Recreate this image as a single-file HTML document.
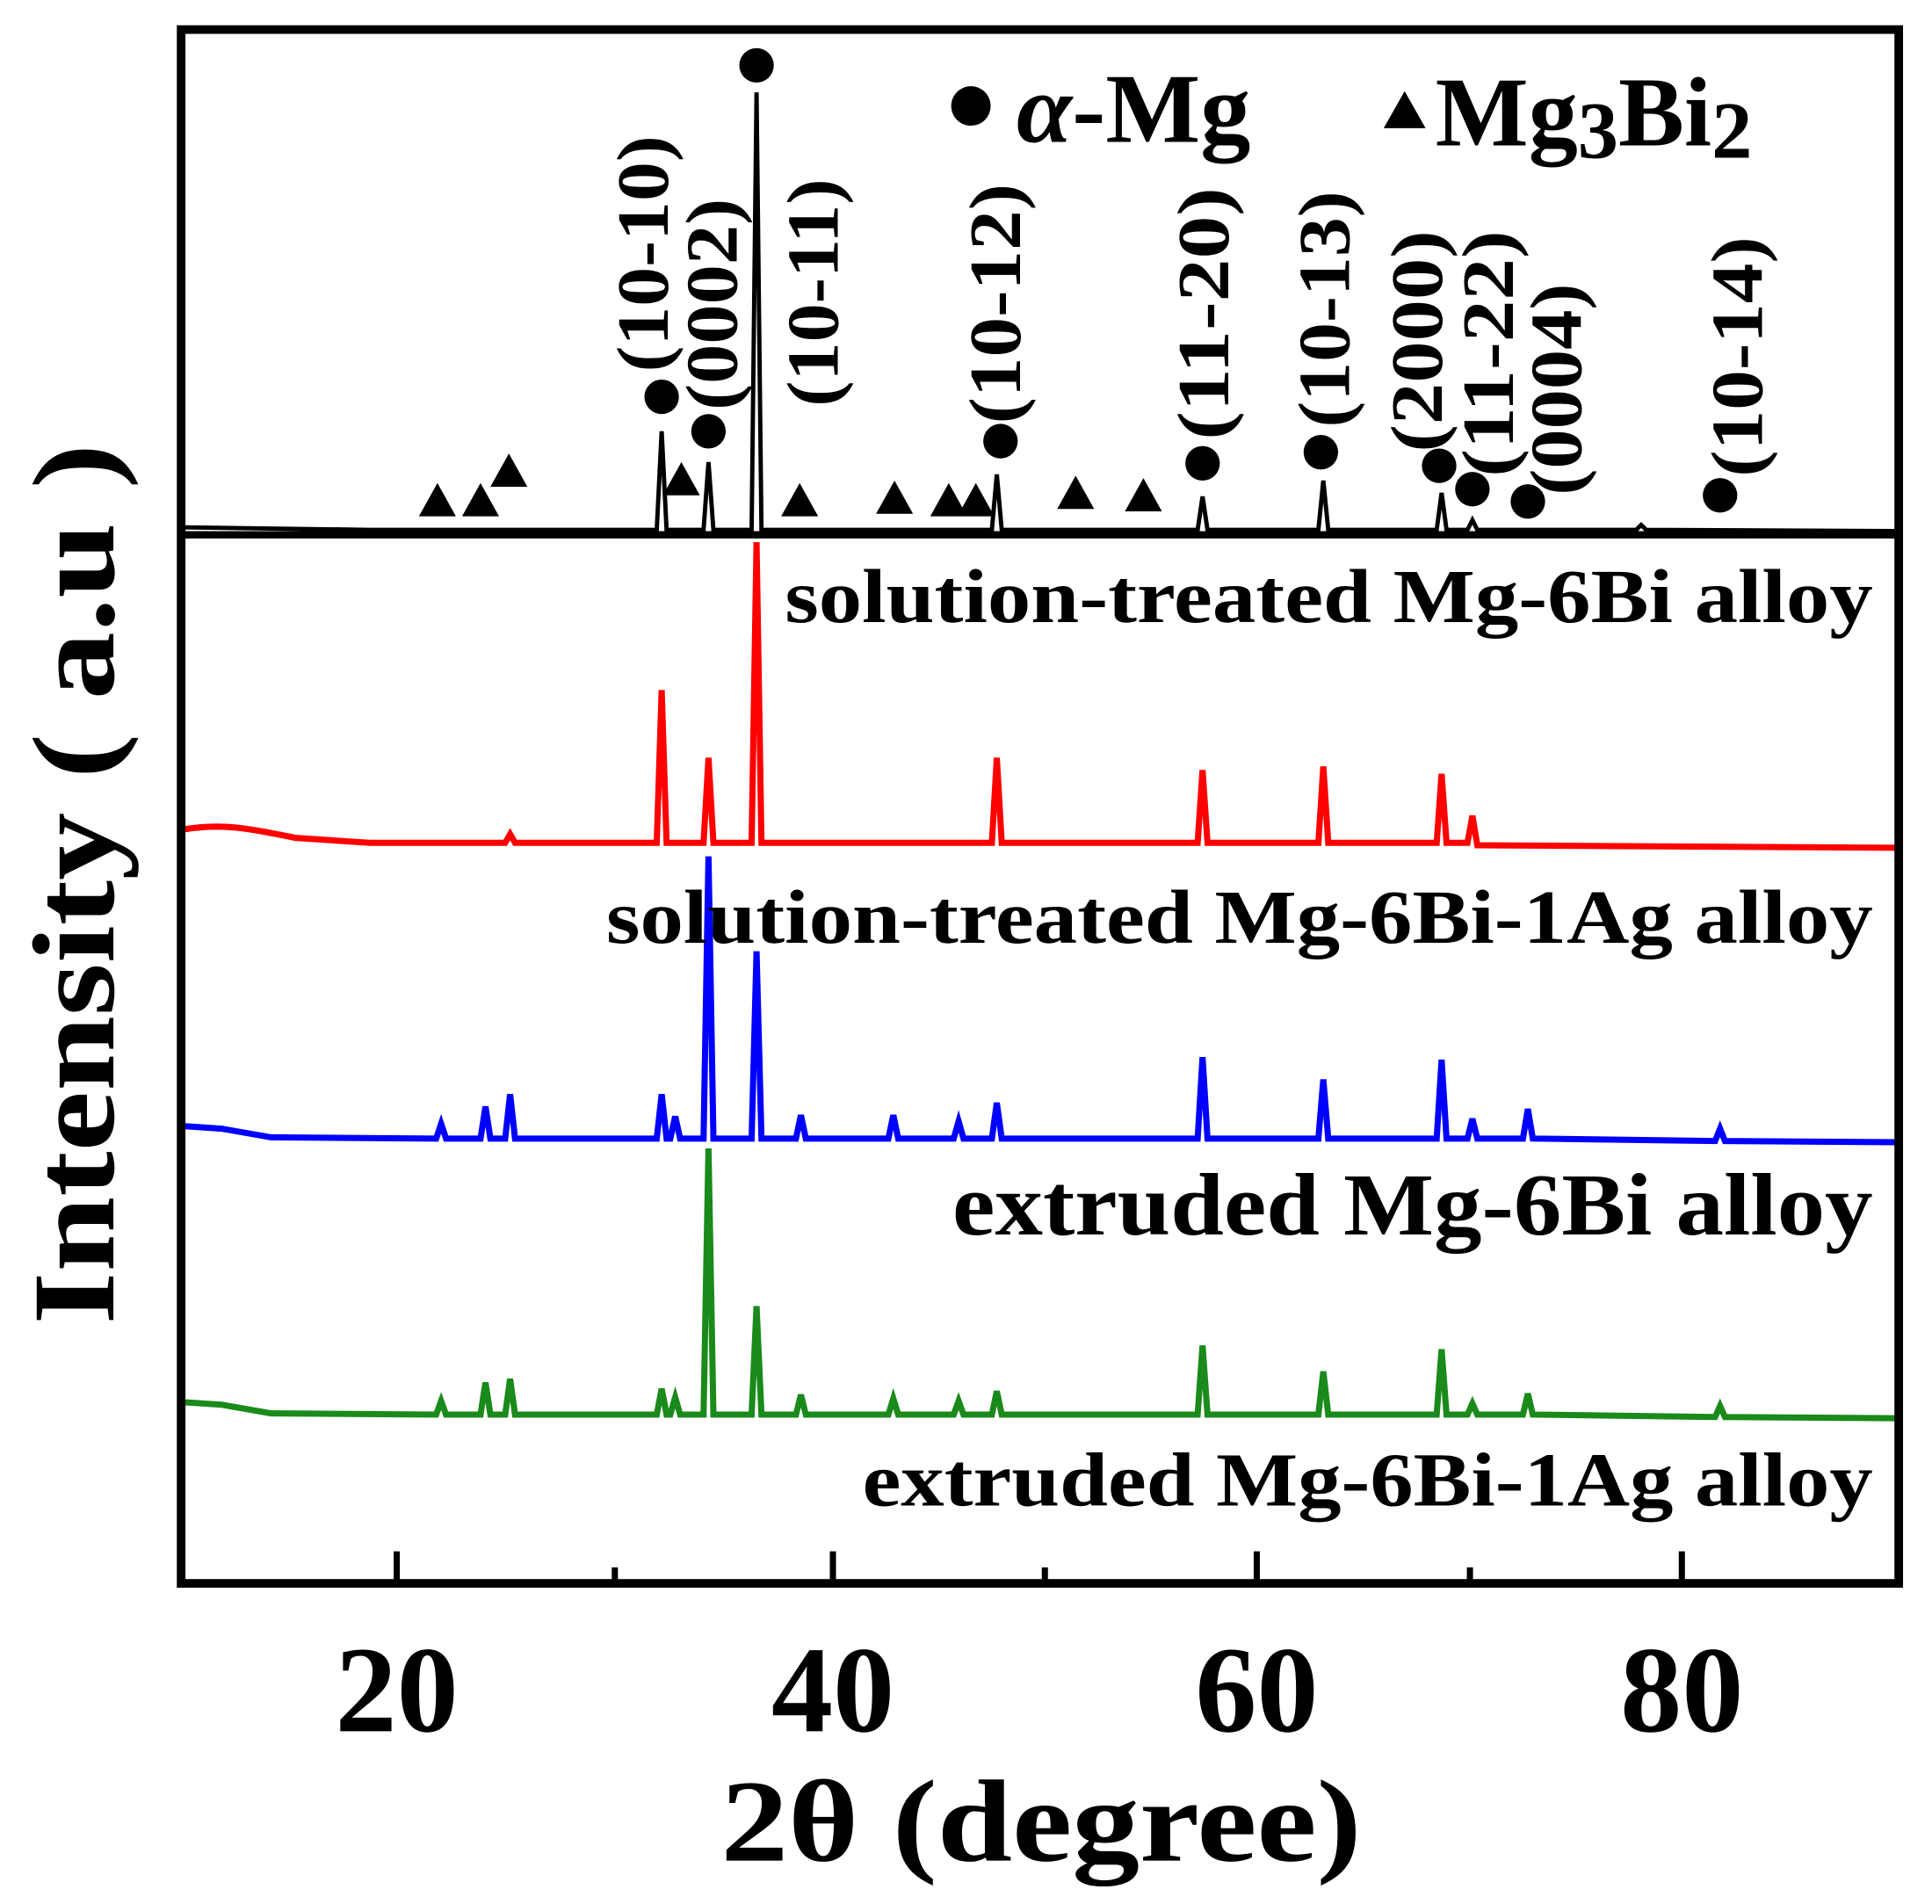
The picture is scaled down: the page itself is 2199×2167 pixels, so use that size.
<!DOCTYPE html>
<html><head><meta charset="utf-8"><style>
html,body{margin:0;padding:0;background:#fff;}
svg{display:block;}
text{font-family:"Liberation Serif",serif;font-weight:bold;fill:#000;}
</style></head><body>
<svg width="2199" height="2167" viewBox="0 0 1568 1545.2" xmlns="http://www.w3.org/2000/svg">
<rect width="1568" height="1546" fill="#fff"/>
<path fill="none" stroke="#000" stroke-width="3.5" d="M150,428 L300,430 L533,430 L537,350 L541,430 L571,430 L575,375 L579,430 L610,430 L614,75 L618,430 L805,430 L809,385 L813,430 L972,430 L976,403 L980,430 L1070,430 L1074,390 L1078,430 L1166,430 L1170,400 L1174,430 L1191,430 L1195,422 L1199,430 L1328,430 L1332,426 L1336,430 L1540,431"/>
<path fill="none" stroke="#f00" stroke-width="5" d="M150,673 C180,668 200,672 240,680 L300,684 L410,684 L414,677 L418,684 L533,684 L537,560 L541,684 L571,684 L575,615 L579,684 L610,684 L614,440 L618,684 L805,684 L809,615 L813,684 L972,684 L976,625 L980,684 L1070,684 L1074,622 L1078,684 L1166,684 L1170,628 L1174,684 L1191,684 L1195,662 L1199,686 L1540,688"/>
<path fill="none" stroke="#00f" stroke-width="5" d="M150,914 L180,916 L220,923 L354,924 L358,912 L362,924 L390,924 L394,898 L398,924 L410,924 L414,888 L418,924 L533,924 L537,888 L541,924 L544,924 L548,906 L552,924 L571,924 L575,695 L579,924 L610,924 L614,772 L618,924 L646,924 L650,905 L654,924 L721,924 L725,905 L729,924 L774,924 L778,910 L782,924 L805,924 L809,895 L813,924 L972,924 L976,858 L980,924 L1070,924 L1074,876 L1078,924 L1166,924 L1170,860 L1174,924 L1191,924 L1195,908 L1199,924 L1236,924 L1240,900 L1244,924 L1392,926 L1396,916 L1400,926 L1540,927"/>
<path fill="none" stroke="#1a8a1a" stroke-width="5" d="M150,1138 L180,1140 L220,1147 L354,1148 L358,1137 L362,1148 L390,1148 L394,1122 L398,1148 L410,1148 L414,1119 L418,1148 L533,1148 L537,1127 L541,1148 L544,1148 L548,1134 L552,1148 L571,1148 L575,932 L579,1148 L610,1148 L614,1060 L618,1148 L646,1148 L650,1132 L654,1148 L721,1148 L725,1135 L729,1148 L774,1148 L778,1137 L782,1148 L805,1148 L809,1129 L813,1148 L972,1148 L976,1092 L980,1148 L1070,1148 L1074,1113 L1078,1148 L1166,1148 L1170,1095 L1174,1148 L1191,1148 L1195,1139 L1199,1148 L1236,1148 L1240,1131 L1244,1148 L1392,1150 L1396,1141 L1400,1150 L1540,1151"/>
<rect x="147" y="24" width="1394" height="1261" fill="none" stroke="#000" stroke-width="7"/>
<line x1="147" y1="434" x2="1541" y2="434" stroke="#000" stroke-width="6"/>
<g stroke="#000" stroke-width="5">
<line x1="322" y1="1285" x2="322" y2="1259"/><line x1="676" y1="1285" x2="676" y2="1259"/>
<line x1="1020" y1="1285" x2="1020" y2="1259"/><line x1="1365" y1="1285" x2="1365" y2="1259"/>
<line x1="499" y1="1285" x2="499" y2="1272"/><line x1="848" y1="1285" x2="848" y2="1272"/>
<line x1="1193" y1="1285" x2="1193" y2="1272"/>
</g>
<g fill="#000">
<circle cx="537" cy="322" r="14"/><circle cx="575" cy="350" r="14"/><circle cx="614" cy="53" r="14"/>
<circle cx="812" cy="358" r="14"/><circle cx="976" cy="376" r="14"/><circle cx="1072" cy="367" r="14"/>
<circle cx="1168" cy="378" r="14"/><circle cx="1195" cy="397" r="14"/><circle cx="1240" cy="407" r="14"/>
<circle cx="1396" cy="402" r="14"/>
<circle cx="788" cy="86" r="16"/>
<path d="M355,392 l15,27 h-30z M390,392 l15,27 h-30z M413,368 l15,27 h-30z M553,375 l15,27 h-30z M649,392 l15,27 h-30z M726,390 l15,27 h-30z M770,392 l15,27 h-30z M792,392 l15,27 h-30z M873,386 l15,27 h-30z M928,388 l15,27 h-30z M1140,74 l17,30 h-34z"/>
</g>
<text x="825" y="115" font-size="80" textLength="190" lengthAdjust="spacingAndGlyphs"><tspan font-style="italic">α</tspan>-Mg</text>
<text x="1165" y="118" font-size="80">Mg<tspan font-size="66" dy="10">3</tspan><tspan dy="-10">Bi</tspan><tspan font-size="66" dy="10">2</tspan></text>
<g font-size="60">
<text transform="translate(542,302) rotate(-90)" textLength="192" lengthAdjust="spacingAndGlyphs">(10-10)</text>
<text transform="translate(598,333) rotate(-90)" textLength="172" lengthAdjust="spacingAndGlyphs">(0002)</text>
<text transform="translate(680,330) rotate(-90)" textLength="185" lengthAdjust="spacingAndGlyphs">(10-11)</text>
<text transform="translate(828,344) rotate(-90)" textLength="195" lengthAdjust="spacingAndGlyphs">(10-12)</text>
<text transform="translate(997,357) rotate(-90)" textLength="205" lengthAdjust="spacingAndGlyphs">(11-20)</text>
<text transform="translate(1095,347) rotate(-90)" textLength="192" lengthAdjust="spacingAndGlyphs">(10-13)</text>
<text transform="translate(1170,367) rotate(-90)" textLength="180" lengthAdjust="spacingAndGlyphs">(2000)</text>
<text transform="translate(1228,387) rotate(-90)" textLength="200" lengthAdjust="spacingAndGlyphs">(11-22)</text>
<text transform="translate(1283,402) rotate(-90)" textLength="172" lengthAdjust="spacingAndGlyphs">(0004)</text>
<text transform="translate(1430,387) rotate(-90)" textLength="195" lengthAdjust="spacingAndGlyphs">(10-14)</text>
</g>
<text x="637" y="505" font-size="62" textLength="883" lengthAdjust="spacingAndGlyphs">solution-treated Mg-6Bi alloy</text>
<text x="492" y="765" font-size="62" textLength="1028" lengthAdjust="spacingAndGlyphs">solution-treated Mg-6Bi-1Ag alloy</text>
<text x="773" y="1002" font-size="72" textLength="747" lengthAdjust="spacingAndGlyphs">extruded Mg-6Bi alloy</text>
<text x="700" y="1222" font-size="62" textLength="820" lengthAdjust="spacingAndGlyphs">extruded Mg-6Bi-1Ag alloy</text>
<g font-size="100" text-anchor="middle">
<text x="322" y="1405">20</text><text x="676" y="1405">40</text>
<text x="1020" y="1405">60</text><text x="1365" y="1405">80</text>
</g>
<text x="585" y="1510" font-size="95" textLength="520" lengthAdjust="spacingAndGlyphs">2θ (degree)</text>
<text transform="translate(92,1075) rotate(-90)" font-size="95" textLength="715" lengthAdjust="spacingAndGlyphs">Intensity ( a.u )</text>
</svg>
</body></html>
